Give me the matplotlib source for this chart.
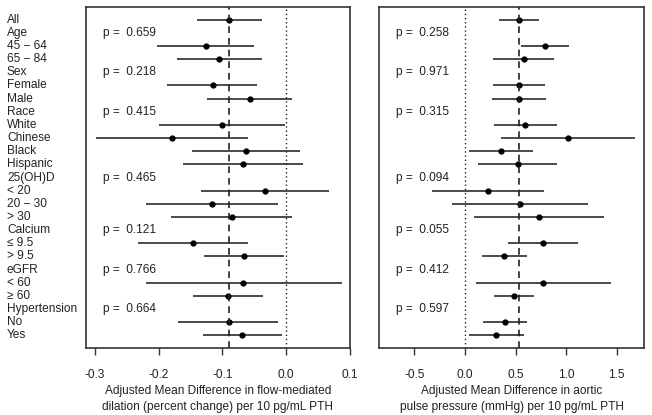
import matplotlib
matplotlib.use("Agg")
import matplotlib.pyplot as plt
import matplotlib.transforms as mtransforms
import numpy as np

plt.rcParams['font.family'] = ['Liberation Sans', 'DejaVu Sans']
plt.rcParams['font.size'] = 8.6

labels = ["All", "Age", "45 \u2212 64", "65 \u2212 84", "Sex", "Female", "Male",
          "Race", "White", "Chinese", "Black", "Hispanic", "25(OH)D",
          "< 20", "20 \u2212 30", "> 30", "Calcium", "\u2264 9.5", "> 9.5",
          "eGFR", "< 60", "\u2265 60", "Hypertension", "No", "Yes"]

# flow-mediated dilation (NaN for header rows)
fmd_est = [-0.089, np.nan, -0.126, -0.105, np.nan, -0.115, -0.056, np.nan,
           -0.100, -0.179, -0.063, -0.068, np.nan, -0.033, -0.116, -0.085,
           np.nan, -0.146, -0.066, np.nan, -0.068, -0.091, np.nan, -0.090, -0.069]
fmd_lo = [-0.140, np.nan, -0.202, -0.171, np.nan, -0.187, -0.124, np.nan,
          -0.199, -0.299, -0.147, -0.162, np.nan, -0.134, -0.220, -0.180,
          np.nan, -0.233, -0.129, np.nan, -0.220, -0.146, np.nan, -0.169, -0.131]
fmd_hi = [-0.038, np.nan, -0.050, -0.038, np.nan, -0.045, 0.010, np.nan,
          -0.002, -0.059, 0.022, 0.027, np.nan, 0.067, -0.012, 0.009,
          np.nan, -0.059, -0.004, np.nan, 0.087, -0.036, np.nan, -0.012, -0.006]
fmd_p = {"Age": "0.659", "Sex": "0.218", "Race": "0.415", "25(OH)D": "0.465",
         "Calcium": "0.121", "eGFR": "0.766", "Hypertension": "0.664"}

# aortic pulse pressure
pp_est = [0.534, np.nan, 0.787, 0.580, np.nan, 0.537, 0.530, np.nan,
          0.596, 1.015, 0.356, 0.521, np.nan, 0.224, 0.543, 0.728,
          np.nan, 0.768, 0.389, np.nan, 0.774, 0.484, np.nan, 0.392, 0.303]
pp_lo = [0.339, np.nan, 0.557, 0.280, np.nan, 0.280, 0.263, np.nan,
         0.290, 0.359, 0.043, 0.132, np.nan, -0.329, -0.125, 0.086,
         np.nan, 0.428, 0.171, np.nan, 0.109, 0.287, np.nan, 0.181, 0.037]
pp_hi = [0.728, np.nan, 1.024, 0.877, np.nan, 0.794, 0.797, np.nan,
         0.906, 1.677, 0.669, 0.909, np.nan, 0.778, 1.212, 1.371,
         np.nan, 1.113, 0.610, np.nan, 1.443, 0.685, np.nan, 0.610, 0.583]
pp_p = {"Age": "0.258", "Sex": "0.971", "Race": "0.315", "25(OH)D": "0.094",
        "Calcium": "0.055", "eGFR": "0.412", "Hypertension": "0.597"}

fig = plt.figure(figsize=(6.52, 4.15), dpi=100)
ax1 = fig.add_axes([0.1319, 0.1614, 0.4049, 0.8217])
ax2 = fig.add_axes([0.5818, 0.1614, 0.4059, 0.8217])

y = np.arange(len(labels))


def panel(ax, est, lo, hi, pvals, xlim, ticks, ticklabels, xlabel):
    est, lo, hi = map(np.array, (est, lo, hi))
    ok = ~np.isnan(est)
    ax.hlines(y[ok], lo[ok], hi[ok], color='#1a1a1a', lw=1.1)
    ax.plot(est[ok], y[ok], 'o', color='black', ms=3.5)
    ax.axvline(0, color='#222222', lw=1.0, ls=(0, (1, 2)))
    ax.axvline(est[0], color='#222222', lw=1.2, ls=(0, (4, 3)))
    trans = mtransforms.blended_transform_factory(ax.transAxes, ax.transData)
    for i, lab in enumerate(labels):
        if lab in pvals:
            ax.text(0.064, i, "p =  " + pvals[lab], transform=trans,
                    va='center', ha='left', color='#222222')
    ax.set_xlim(*xlim)
    ax.set_ylim(len(labels) - 1 + 0.96, -0.96)
    ax.set_yticks([])
    ax.set_xticks(ticks)
    ax.set_xticklabels(ticklabels)
    ax.tick_params(axis='x', direction='out', length=5, width=1.0, pad=10,
                   color='#333333', labelcolor='#222222')
    for s in ax.spines.values():
        s.set_linewidth(1.2)
        s.set_color('#333333')
    ax.set_xlabel(xlabel, linespacing=1.4, labelpad=3, color='#222222')


panel(ax1, fmd_est, fmd_lo, fmd_hi, fmd_p, (-0.314, 0.1003),
      [-0.3, -0.2, -0.1, 0.0, 0.1], ["-0.3", "-0.2", "-0.1", "0.0", "0.1"],
      "Adjusted Mean Difference in flow-mediated\ndilation (percent change) per 10 pg/mL PTH")
panel(ax2, pp_est, pp_lo, pp_hi, pp_p, (-0.847, 1.769),
      [-0.5, 0.0, 0.5, 1.0, 1.5], ["-0.5", "0.0", "0.5", "1.0", "1.5"],
      "Adjusted Mean Difference in aortic\npulse pressure (mmHg) per 10 pg/mL PTH")

ltrans = mtransforms.blended_transform_factory(fig.transFigure, ax1.transData)
for i, lab in enumerate(labels):
    fig.text(0.0107, i, lab, transform=ltrans, va='center', ha='left', color='#222222')

fig.savefig("out.png", dpi=100)
